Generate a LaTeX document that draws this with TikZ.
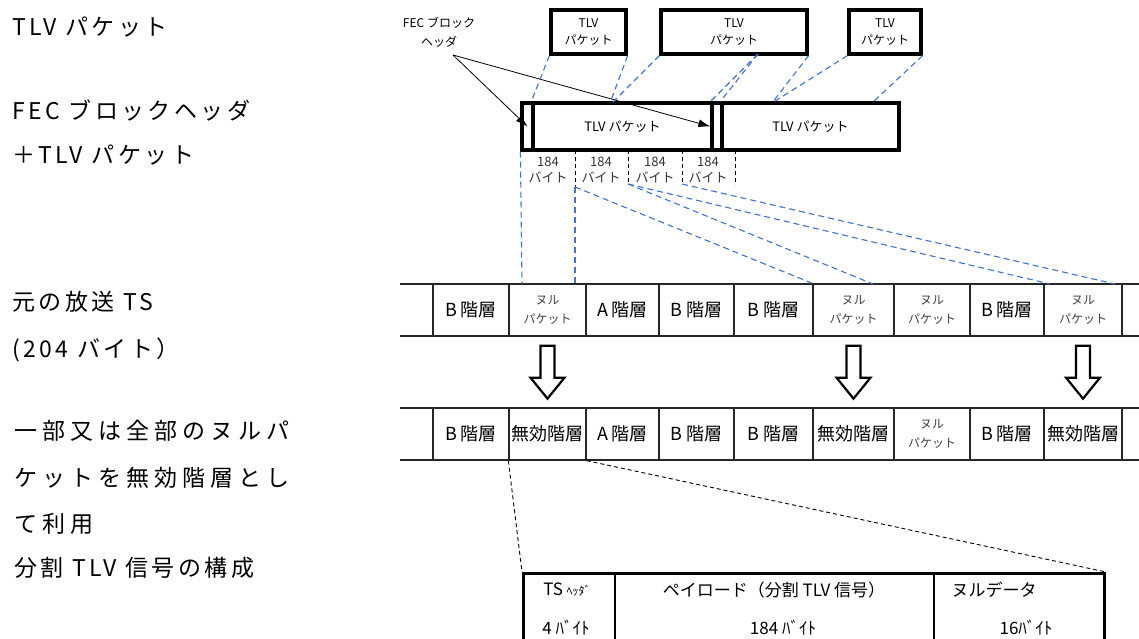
\documentclass[tikz,border=0pt]{standalone}
\usepackage{fontspec}
\setmainfont{Noto Sans CJK JP}
\usetikzlibrary{arrows.meta,calc}
\definecolor{tlvblue}{RGB}{68,114,196}
\begin{document}
\begin{tikzpicture}[x=1pt,y=-1pt,
  tlv/.style={draw, line width=3.2pt, inner sep=0pt, align=center, minimum height=44pt, font=\fontsize{12}{17}\selectfont},
  fecbox/.style={draw, line width=3.2pt, inner sep=0pt, align=center, minimum height=47pt, font=\fontsize{13}{16}\selectfont},
  cellb/.style={draw=black!85, line width=1.3pt, inner sep=0pt, minimum height=52pt, align=center, font=\fontsize{18}{20}\selectfont},
  nulp/.style={font=\fontsize{12}{19}\selectfont, text=black!75},
  bytes/.style={align=center, inner sep=0pt, font=\fontsize{13}{16}\selectfont, text=black!80},
  blued/.style={draw=tlvblue, line width=1.1pt, dash pattern=on 6pt off 4pt},
  blackd/.style={draw=black, line width=0.9pt, dash pattern=on 4pt off 3pt},
  leftt/.style={anchor=west, inner sep=0pt, font=\fontsize{23}{28}\selectfont\addfontfeature{LetterSpace=15}},
  rowline/.style={draw=black!85, line width=1.4pt},
  hollow/.style={draw, line width=2.2pt, fill=white},
  tabtxt/.style={inner sep=0pt, font=\fontsize{17}{20}\selectfont},
  pointer/.style={draw, line width=0.8pt, -{Latex[length=12pt,width=8pt]}}
]
\useasboundingbox (0,0) rectangle (1139,639);

% left column texts
\node[leftt] (L1) at (12,27) {TLV パケット};
\node[leftt] (L2) at (12,111) {FEC ブロックヘッダ};
\node[leftt] (L3) at (12,155) {＋TLV パケット};
\node[leftt] (L4) at (12,302) {元の放送 TS};
\node[leftt] (L5) at (12,350) {(204 バイト）};
\node[leftt, font=\fontsize{23}{28}\selectfont\addfontfeature{LetterSpace=22}] (L6) at (14,431) {一部又は全部のヌルパ};
\node[leftt, font=\fontsize{23}{28}\selectfont\addfontfeature{LetterSpace=22}] (L7) at (14,478) {ケットを無効階層とし};
\node[leftt, font=\fontsize{23}{28}\selectfont\addfontfeature{LetterSpace=22}] (L8) at (14,524) {て利用};
\node[leftt] (L9) at (14,568) {分割 TLV 信号の構成};

% top TLV packets
\node[tlv, minimum width=75pt] (t1) at (588.5,32) {TLV\\パケット};
\node[tlv, minimum width=146pt] (t2) at (734,32) {TLV\\パケット};
\node[tlv, minimum width=72pt] (t3) at (885,32) {TLV\\パケット};

% FEC label
\node[align=center, inner sep=0pt, font=\fontsize{12}{19}\selectfont] (fecl) at (439,32) {FEC ブロック\\ヘッダ};
\coordinate (fecp) at (453,55);

% FEC block row
\node[fecbox, minimum width=11pt] (h1) at (527.5,126.5) {};
\node[fecbox, minimum width=179pt] (p1) at (622.5,126.5) {TLV パケット};
\node[fecbox, minimum width=10pt] (h2) at (717,126.5) {};
\node[fecbox, minimum width=177pt] (p2) at (810.5,126.5) {TLV パケット};

\draw[pointer] (fecp) -- (h1.center);
\draw[pointer] (fecp) -- (h2.west);

% 184 byte labels
\node[bytes] (b1) at (548,170) {184\\バイト};
\node[bytes] (b2) at (601,170) {184\\バイト};
\node[bytes] (b3) at (655,170) {184\\バイト};
\node[bytes] (b4) at (708,170) {184\\バイト};

\coordinate (s1t) at (575,150); \coordinate (s1b) at (575,187);
\coordinate (s2t) at (628,150); \coordinate (s2b) at (628,184);
\coordinate (s3t) at (682,150); \coordinate (s3b) at (682,184);
\coordinate (s4t) at (735,150); \coordinate (s4b) at (735,185);
\draw[blackd] (s1t) -- (s1b);
\draw[blackd] (s2t) -- (s2b);
\draw[blackd] (s3t) -- (s3b);
\draw[blackd] (s4t) -- (s4b);

% rows
\coordinate (ra1) at (400,284); \coordinate (ra2) at (1139,284);
\coordinate (rb1) at (400,336); \coordinate (rb2) at (1139,336);
\coordinate (rc1) at (400,408); \coordinate (rc2) at (1139,408);
\coordinate (rd1) at (400,460); \coordinate (rd2) at (1139,460);
\draw[rowline] (ra1) -- (ra2);
\draw[rowline] (rb1) -- (rb2);
\draw[rowline] (rc1) -- (rc2);
\draw[rowline] (rd1) -- (rd2);

\node[cellb, minimum width=76pt] (r1c1) at (471,310) {B 階層};
\node[cellb, minimum width=77pt, nulp] (r1c2) at (547.5,310) {ヌル\\パケット};
\node[cellb, minimum width=73pt] (r1c3) at (622.5,310) {A 階層};
\node[cellb, minimum width=75pt] (r1c4) at (696.5,310) {B 階層};
\node[cellb, minimum width=79pt] (r1c5) at (773.5,310) {B 階層};
\node[cellb, minimum width=81pt, nulp] (r1c6) at (853.5,310) {ヌル\\パケット};
\node[cellb, minimum width=76pt, nulp] (r1c7) at (932,310) {ヌル\\パケット};
\node[cellb, minimum width=74pt] (r1c8) at (1007,310) {B 階層};
\node[cellb, minimum width=78pt, nulp] (r1c9) at (1083,310) {ヌル\\パケット};

\node[cellb, minimum width=76pt] (r2c1) at (471,434) {B 階層};
\node[cellb, minimum width=77pt] (r2c2) at (547.5,434) {無効階層};
\node[cellb, minimum width=73pt] (r2c3) at (622.5,434) {A 階層};
\node[cellb, minimum width=75pt] (r2c4) at (696.5,434) {B 階層};
\node[cellb, minimum width=79pt] (r2c5) at (773.5,434) {B 階層};
\node[cellb, minimum width=81pt] (r2c6) at (853.5,434) {無効階層};
\node[cellb, minimum width=76pt, nulp] (r2c7) at (932,434) {ヌル\\パケット};
\node[cellb, minimum width=74pt] (r2c8) at (1007,434) {B 階層};
\node[cellb, minimum width=78pt] (r2c9) at (1083,434) {無効階層};

% blue dashed mapping lines (top)
\coordinate (q1) at (610,103);
\coordinate (q2) at (612,103);
\coordinate (q3) at (709,103);
\coordinate (q4) at (772,103);
\coordinate (q5) at (872,103);
\coordinate (t2m) at (758,54);
\draw[blued] (t1.south west) -- (p1.north west);
\draw[blued] (t1.south east) -- (q1);
\draw[blued] (t2.south west) -- (q2);
\draw[blued] (t2m) -- (q3);
\draw[blued] (t2m) -- (p2.north west);
\draw[blued] (t2.south east) -- (q4);
\draw[blued] (t3.south west) -- (q4);
\draw[blued] (t3.south east) -- (q5);

% blue dashed mapping lines (184 byte -> null packets)
\coordinate (u1) at (522,284);
\coordinate (u2) at (575,284);
\coordinate (u3) at (873,284);
\coordinate (u4) at (1050,284);
\coordinate (u5) at (1115,284);
\draw[blued] (h1.south west) -- (u1);
\draw[blued] (s1b) -- (u2);
\draw[blued] (s1b) -- (r1c6.north west);
\draw[blued] (s2b) -- (u3);
\draw[blued] (s2b) -- (u4);
\draw[blued] (s3b) -- (u5);

% hollow arrows
\foreach \c in {r1c2,r1c6,r1c9}{
  \draw[hollow] ($(\c.south)+(-7,9)$) -- ++(14,0) -- ++(0,32) -- ++(10,0)
     -- ++(-17,21) -- ++(-17,-21) -- ++(10,0) -- cycle;
}

% table
\node[draw, line width=3pt, inner sep=0pt, minimum width=581pt, minimum height=80pt, anchor=north west] (tbl) at (522,572) {};
\draw[line width=1.1pt] ($(tbl.north west)+(93,0)$) -- ($(tbl.south west)+(93,0)$);
\draw[line width=1.1pt] ($(tbl.north west)+(412,0)$) -- ($(tbl.south west)+(412,0)$);
\node[tabtxt] (th1) at (567,590) {TS {\fontsize{12}{12}\selectfont ﾍｯﾀﾞ}};
\node[tabtxt] (th2) at (774,590) {ペイロード（分割 TLV 信号）};
\node[tabtxt] (th3) at (994,590) {ヌルデータ};
\node[tabtxt] (tv1) at (566,628) {4 ﾊﾞｲﾄ};
\node[tabtxt] (tv2) at (783,628) {184 ﾊﾞｲﾄ};
\node[tabtxt] (tv3) at (1026,628) {16ﾊﾞｲﾄ};

\draw[blackd] (r2c2.south west) -- (tbl.north west);
\draw[blackd] (r2c2.south east) -- (tbl.north east);
\end{tikzpicture}
\end{document}
